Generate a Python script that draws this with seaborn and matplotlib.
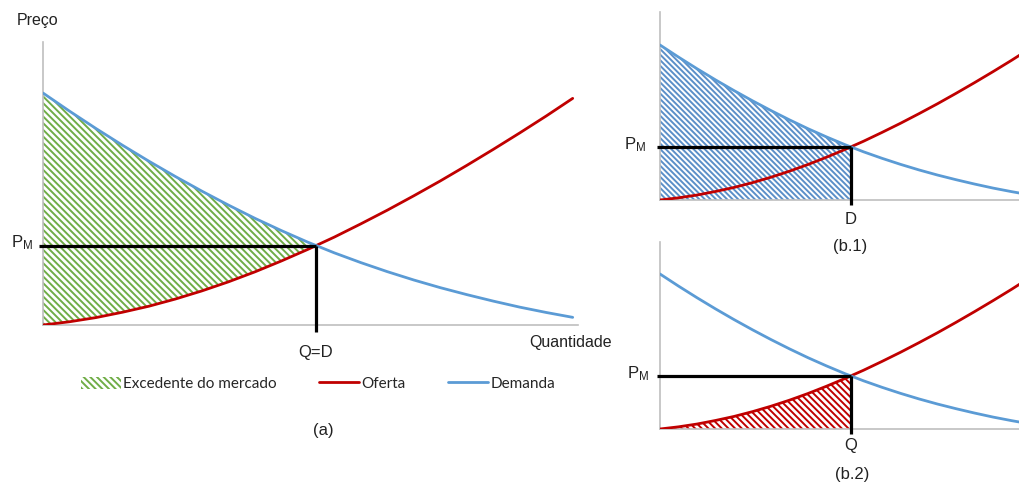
import numpy as np
import pandas as pd
import matplotlib
matplotlib.use('Agg')
import matplotlib.pyplot as plt
from matplotlib.patches import Patch
from matplotlib.lines import Line2D
import seaborn as sns

# valores (unidades arbitrarias)
quantidade = [0, 0.5, 1, 1.5, 2, 2.5, 3, 3.5, 4, 4.5, 5,
              5.5, 6, 6.5, 7, 7.5, 8, 8.5, 9, 9.5, 10]
demanda = [10.0, 9.22, 8.47, 7.75, 7.06, 6.40, 5.77, 5.17, 4.60, 4.07, 3.57,
           3.11, 2.69, 2.30, 1.94, 1.61, 1.31, 1.03, 0.77, 0.54, 0.33]
oferta = [0.0, 0.14, 0.32, 0.55, 0.81, 1.12, 1.47, 1.86, 2.29, 2.76, 3.26,
          3.79, 4.36, 4.95, 5.57, 6.21, 6.88, 7.57, 8.28, 9.01, 9.77]
q_eq = 5.15
p_eq = 3.42

legend_labels = ['Excedente do mercado', 'Oferta', 'Demanda']

RED = '#c00000'
BLUE = '#5b9bd5'
GREEN = '#70ad47'
HATCH_BLUE = '#5b8fc8'
AXIS_GRAY = '#bfbfbf'
TXT = '#222222'

sns.set_style('white')
plt.rcParams['font.family'] = ['Liberation Sans', 'DejaVu Sans']
plt.rcParams['mathtext.default'] = 'regular'
plt.rcParams['hatch.linewidth'] = 1.4

df = pd.DataFrame({'Quantidade': quantidade, 'Demanda': demanda, 'Oferta': oferta})

# pontos ate o equilibrio para as areas hachuradas
n = sum(1 for q in quantidade if q < q_eq)
q_fill = quantidade[:n] + [q_eq]
d_fill = demanda[:n] + [p_eq]
s_fill = oferta[:n] + [p_eq]

W, H = 1020, 482
fig = plt.figure(figsize=(W / 100, H / 100), dpi=100)


def box(left, top, right, bottom):
    return [left / W, 1 - bottom / H, (right - left) / W, (bottom - top) / H]


def style_axes(ax, xmax, ymax):
    ax.set_xlim(0, xmax)
    ax.set_ylim(0, ymax)
    sns.despine(ax=ax)
    for s in ['left', 'bottom']:
        ax.spines[s].set_color(AXIS_GRAY)
        ax.spines[s].set_linewidth(1.2)
    ax.set_xticks([])
    ax.set_yticks([])
    ax.set_xlabel('')
    ax.set_ylabel('')
    ax.patch.set_alpha(0)


def draw_curves(ax):
    sns.lineplot(data=df, x='Quantidade', y='Oferta', color=RED, lw=2.0, ax=ax, zorder=3)
    sns.lineplot(data=df, x='Quantidade', y='Demanda', color=BLUE, lw=2.0, ax=ax, zorder=3)


def draw_eq(ax, left_ext, down_ext, q_text, q_off, pm_off):
    ax.plot([-left_ext, q_eq], [p_eq, p_eq], color='black', lw=2.3, clip_on=False, zorder=4,
            solid_capstyle='butt')
    ax.plot([q_eq, q_eq], [p_eq, -down_ext], color='black', lw=2.3, clip_on=False, zorder=4,
            solid_capstyle='butt')
    ax.annotate('P$_{M}$', xy=(0, p_eq), xytext=(pm_off, 2), textcoords='offset points',
                ha='center', va='center', fontsize=12, color=TXT)
    ax.annotate(q_text, xy=(q_eq, 0), xytext=(0, q_off), textcoords='offset points',
                ha='center', va='center', fontsize=12, color=TXT)


# (a)
ax_a = fig.add_axes(box(43, 42, 578, 325))
ax_a.fill_between(q_fill, s_fill, d_fill, facecolor='none', edgecolor=GREEN,
                  hatch='\\' * 5, linewidth=0, zorder=1)
draw_curves(ax_a)
style_axes(ax_a, 10.1, 12.2)
draw_eq(ax_a, 0.08, 0.3, 'Q=D', -20, -15)

fig.text(17 / W, 1 - 20 / H, 'Preço', ha='left', va='center', fontsize=11.5, color=TXT)
fig.text(612 / W, 1 - 342 / H, 'Quantidade', ha='right', va='center', fontsize=11.5, color=TXT)
fig.text(323 / W, 1 - 431 / H, '(a)', ha='center', va='center', fontsize=12, color=TXT)

handles = [Patch(facecolor='none', edgecolor=GREEN, hatch='\\' * 5, linewidth=0),
           Line2D([], [], color=RED, lw=2.0),
           Line2D([], [], color=BLUE, lw=2.0)]
fig.legend(handles, legend_labels, loc='center', bbox_to_anchor=(318 / W, 1 - 384 / H),
           ncol=3, frameon=False, prop={'family': 'Lato', 'size': 11},
           handlelength=2.6, handleheight=0.8, handletextpad=0.15, columnspacing=2.8)

# (b.1)
ax_b1 = fig.add_axes(box(660, 12, 1020, 200))
ax_b1.fill_between(q_fill, 0, d_fill, facecolor='none', edgecolor=HATCH_BLUE,
                   hatch='\\' * 6, linewidth=0, zorder=1)
draw_curves(ax_b1)
style_axes(ax_b1, 360 / 37, 188 / 15.5)
draw_eq(ax_b1, 0.08, 0.3, 'D', -14, -18)
fig.text(850 / W, 1 - 247 / H, '(b.1)', ha='center', va='center', fontsize=12, color=TXT)

# (b.2)
ax_b2 = fig.add_axes(box(660, 242, 1020, 429))
ax_b2.fill_between(q_fill, 0, s_fill, facecolor='none', edgecolor=RED,
                   hatch='\\' * 5, linewidth=0, zorder=1)
draw_curves(ax_b2)
style_axes(ax_b2, 360 / 37, 187 / 15.5)
draw_eq(ax_b2, 0.08, 0.3, 'Q', -12, -16)
fig.text(852 / W, 1 - 474 / H, '(b.2)', ha='center', va='center', fontsize=12, color=TXT)

fig.savefig('out.png', dpi=100)
